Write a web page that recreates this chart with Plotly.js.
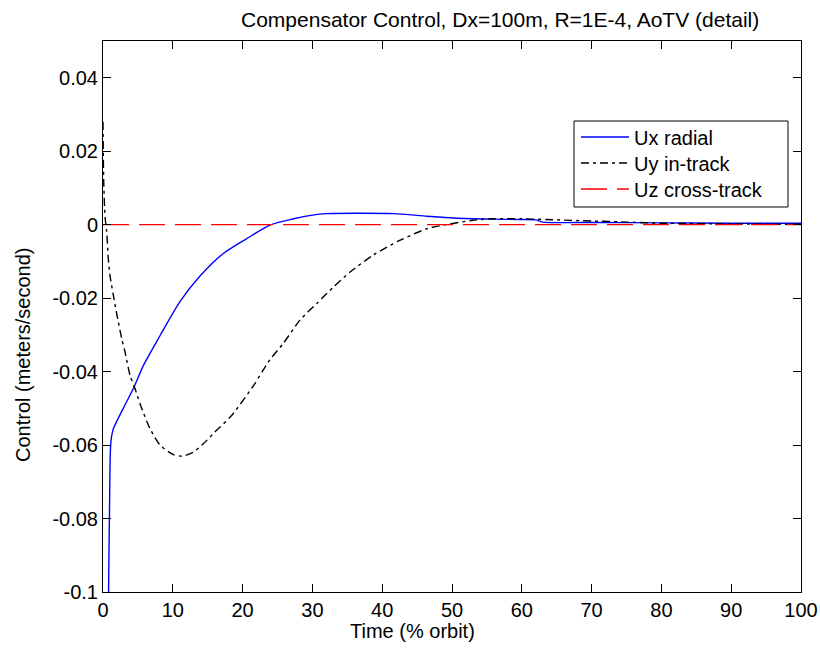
<!DOCTYPE html>
<html>
<head>
<meta charset="utf-8">
<script src="https://cdn.plot.ly/plotly-3.0.1.min.js"></script>
<style>html,body{margin:0;padding:0;background:#fff;}#chart{width:820px;height:653px;}</style>
</head>
<body>
<div id="chart"></div>
<script>
// Ux radial
const uxT = [0, 0.75, 0.8, 0.95, 1.05, 1.2, 1.5, 2.9, 4.35, 5.8, 8.2, 11.0, 13.9, 17.2, 20.6, 23.9, 27.3, 30, 32, 36, 41.6, 46.4, 50.2, 55.9, 60, 62, 63, 70, 80, 90, 100];
const uxV = [-0.3, -0.2, -0.1, -0.075, -0.062, -0.058, -0.0555, -0.050, -0.0446, -0.0383, -0.0301, -0.0210, -0.0140, -0.0079, -0.0038, -0.0001, 0.0016, 0.0026, 0.0030, 0.0031, 0.0030, 0.0023, 0.0018, 0.0015, 0.0014, 0.0013, 0.0007, 0.0006, 0.0005, 0.0004, 0.0004];
// Uy in-track
const uyT = [0, 0.1, 0.3, 0.53, 0.76, 1.0, 1.48, 1.96, 2.68, 3.15, 3.87, 4.58, 5.54, 6.73, 8.17, 10.1, 11.4, 12.9, 14.4, 16, 18.4, 21.5, 23.9, 25.8, 28.2, 30.6, 33.0, 35.4, 38.7, 42.5, 46.4, 49.2, 53.0, 55.9, 60, 65, 70, 75, 80, 90, 100];
const uyV = [0.028, 0.012, 0.002, -0.002, -0.0093, -0.0138, -0.0192, -0.0242, -0.031, -0.0346, -0.041, -0.0446, -0.050, -0.0555, -0.060, -0.0626, -0.0630, -0.062, -0.0596, -0.0565, -0.052, -0.044, -0.0368, -0.0324, -0.026, -0.0215, -0.017, -0.0129, -0.0083, -0.0043, -0.0011, 0.0, 0.0012, 0.0016, 0.0016, 0.0013, 0.0010, 0.0007, 0.0004, 0.0002, 0.0001];
// Uz cross-track
const uzT = [0, 100];
const uzV = [0, 0];

const seriesNames = ['Ux radial', 'Uy in-track', 'Uz cross-track'];

const xTickVals = [0, 10, 20, 30, 40, 50, 60, 70, 80, 90, 100];
const xTickText = ['0', '10', '20', '30', '40', '50', '60', '70', '80', '90', '100'];
const yTickVals = [-0.1, -0.08, -0.06, -0.04, -0.02, 0, 0.02, 0.04];
const yTickText = ['-0.1', '-0.08', '-0.06', '-0.04', '-0.02', '0', '0.02', '0.04'];

const titleText = 'Compensator Control, Dx=100m, R=1E-4, AoTV (detail)';
const xLabel = 'Time (% orbit)';
const yLabel = 'Control (meters/second)';

const FONT = 'Liberation Sans, Arial, sans-serif';
const FS = 20;

// pixel -> paper helpers (plot area: x 103..801, y 41..592)
const px = v => (v - 103) / 698;
const py = v => (592 - v) / 551;

const traces = [
  {x: uxT, y: uxV, name: seriesNames[0], legend: 'legend', mode: 'lines', line: {color: '#0000ff', width: 1.4, shape: 'spline', smoothing: 0.7}},
  {x: uyT, y: uyV, name: seriesNames[1], legend: 'legend2', mode: 'lines', line: {color: '#000000', width: 1.4, dash: '8px,4px,3px,4px', shape: 'spline', smoothing: 0.7}},
  {x: uzT, y: uzV, name: seriesNames[2], legend: 'legend3', mode: 'lines', line: {color: '#ff0000', width: 1.4, dash: '26px,10px'}}
];

const legBase = {
  x: px(576), xanchor: 'left', yanchor: 'middle',
  borderwidth: 0, bgcolor: 'rgba(0,0,0,0)',
  font: {family: FONT, size: FS, color: '#000000'},
  itemwidth: 48
};

const layout = {
  width: 820, height: 653,
  margin: {l: 103, r: 19, t: 41, b: 61},
  paper_bgcolor: '#ffffff', plot_bgcolor: '#ffffff',
  font: {family: FONT, size: FS, color: '#000000'},
  showlegend: true,
  legend: Object.assign({}, legBase, {y: py(137)}),
  legend2: Object.assign({}, legBase, {y: py(163)}),
  legend3: Object.assign({}, legBase, {y: py(189)}),
  shapes: [
    {type: 'rect', xref: 'paper', yref: 'paper', x0: px(574), x1: px(788), y0: py(121), y1: py(207),
     line: {color: '#000000', width: 1}, fillcolor: 'rgba(0,0,0,0)', layer: 'above'}
  ],
  xaxis: {
    range: [0, 100], tickvals: xTickVals, ticktext: xTickText,
    ticks: 'inside', ticklen: 8, tickcolor: '#000', tickwidth: 1,
    showline: true, linecolor: '#000', linewidth: 1, mirror: 'ticks',
    showgrid: false, zeroline: false,
    tickfont: {family: FONT, size: FS, color: '#000'}
  },
  yaxis: {
    range: [-0.1, 0.05], tickvals: yTickVals, ticktext: yTickText,
    ticks: 'inside', ticklen: 8, tickcolor: '#000', tickwidth: 1,
    showline: true, linecolor: '#000', linewidth: 1, mirror: 'ticks',
    showgrid: false, zeroline: false,
    tickfont: {family: FONT, size: FS, color: '#000'}
  },
  annotations: [
    {text: titleText, xref: 'paper', yref: 'paper', x: px(500), y: py(19),
     xanchor: 'center', yanchor: 'middle', showarrow: false, font: {family: FONT, size: 21, color: '#000'}},
    {text: xLabel, xref: 'paper', yref: 'paper', x: px(412), y: py(631),
     xanchor: 'center', yanchor: 'middle', showarrow: false, font: {family: FONT, size: FS, color: '#000'}},
    {text: yLabel, xref: 'paper', yref: 'paper', x: px(23), y: py(355),
     xanchor: 'center', yanchor: 'middle', textangle: -90, showarrow: false, font: {family: FONT, size: FS, color: '#000'}}
  ]
};

Plotly.newPlot('chart', traces, layout, {displayModeBar: false, staticPlot: true});
</script>
</body>
</html>
